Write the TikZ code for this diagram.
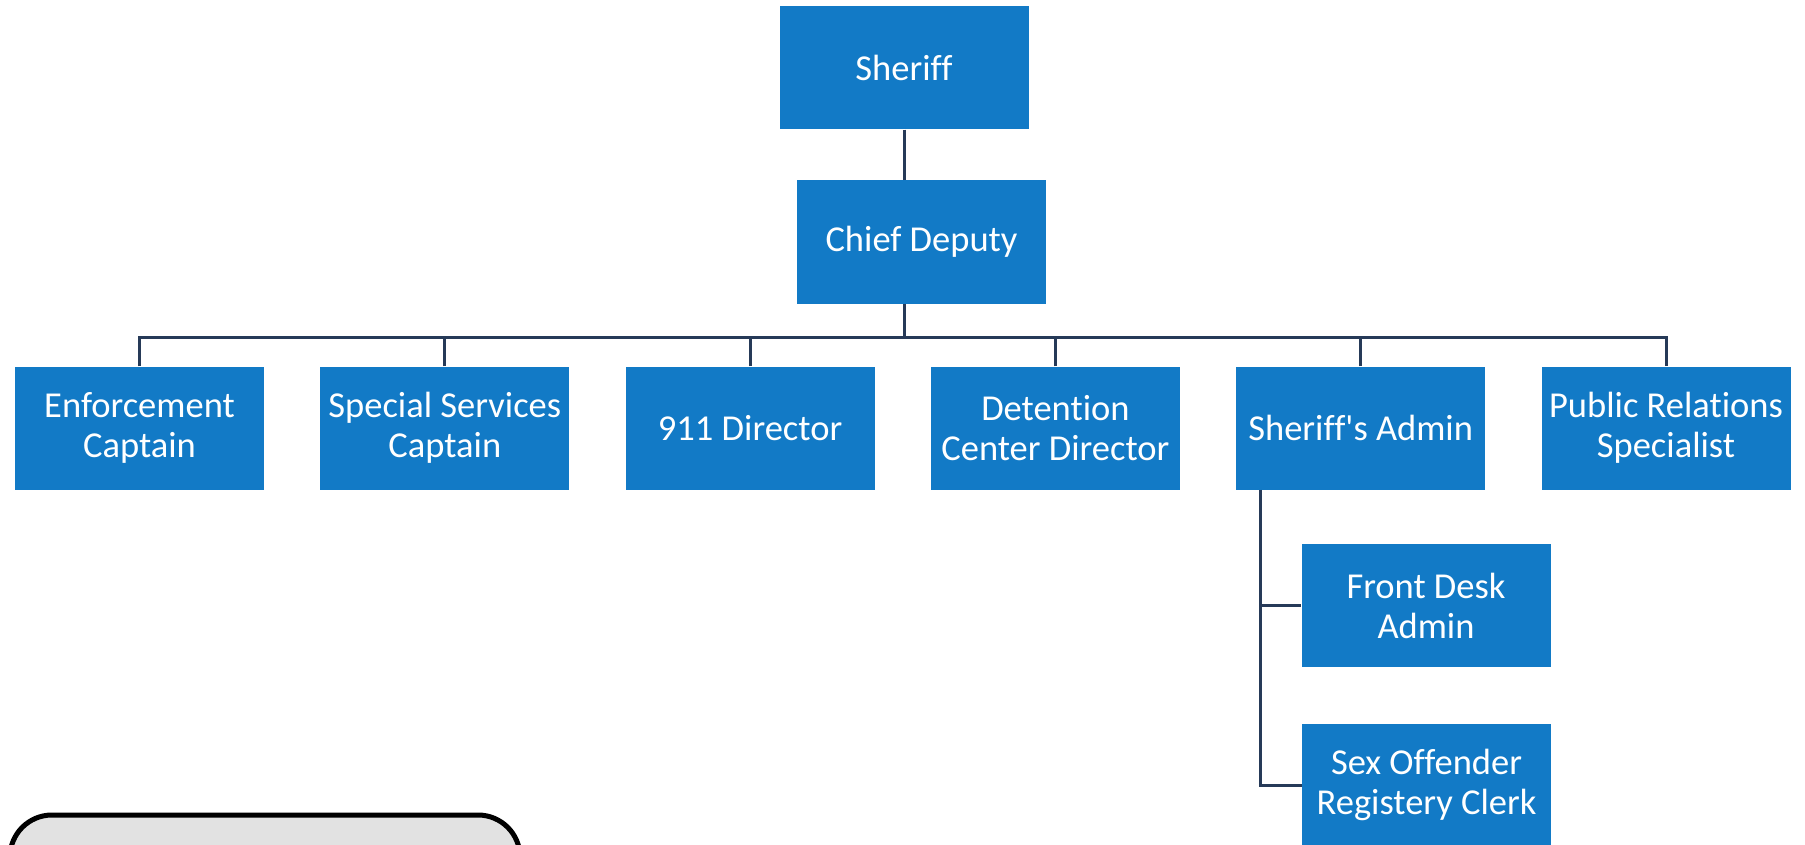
\documentclass[tikz,border=0pt]{standalone}
\usepackage{fontspec}
\setmainfont{Carlito}[Ligatures={NoCommon,NoRequired}]
\usetikzlibrary{positioning}
\definecolor{boxblue}{RGB}{18,122,198}
\definecolor{linenavy}{RGB}{38,58,88}
\definecolor{panelgray}{RGB}{226,226,226}

\begin{document}
\begin{tikzpicture}[x=1pt,y=-1pt,node distance=305.3pt,
  post/.style={rectangle,fill=boxblue,text=white,minimum width=249pt,minimum height=123pt,
    inner sep=0pt,align=center,font=\fontsize{36.5}{40}\selectfont},
  link/.style={draw=linenavy,line width=3pt}]
\clip (0,0) rectangle (1805,845);
% define the posts in the chart
  \node[post] (sheriff) at (904,68)    {Sheriff};
  \node[post] (chief)   at (921.5,242) {Chief Deputy};
  \node[post] (enf)     at (139.5,428) {Enforcement\\Captain};
  \node[post] (spec)  [right of=enf]   {Special Services\\Captain};
  \node[post] (nine)  [right of=spec]  {911 Director};
  \node[post] (det)   [right of=nine]  {Detention\\Center Director};
  \node[post] (sadm)  [right of=det]   {Sheriff\textquotesingle s Admin};
  \node[post] (pr)    [right of=sadm]  {Public Relations\\Specialist};
  \node[post] (front)  at (1426,605.5) {Front Desk\\Admin};
  \node[post] (sexoff) at (1426.5,785) {Sex Offender\\Registery Clerk};

% define the links
  \coordinate (bus) at (904,337);
  \draw[link] (sheriff.south) -- (sheriff.south |- chief.north);
  \draw[link] (chief.south -| sheriff) -- (bus);
  \draw[link] (enf.north) -- (enf.north |- bus) -- (pr.north |- bus) -- (pr.north);
  \foreach \n in {spec,nine,det,sadm}
    \draw[link] (\n.north) -- (\n.north |- bus);
  \draw[link] ([xshift=24pt]sadm.south west) |- (sexoff.west);
  \draw[link] ([xshift=24pt]sadm.south west |- front.west) -- (front.west);

% the panel at the foot of the page
  \draw[line width=5pt,fill=panelgray,rounded corners=42pt] (10,815) rectangle (520,900);
\end{tikzpicture}
\end{document}
